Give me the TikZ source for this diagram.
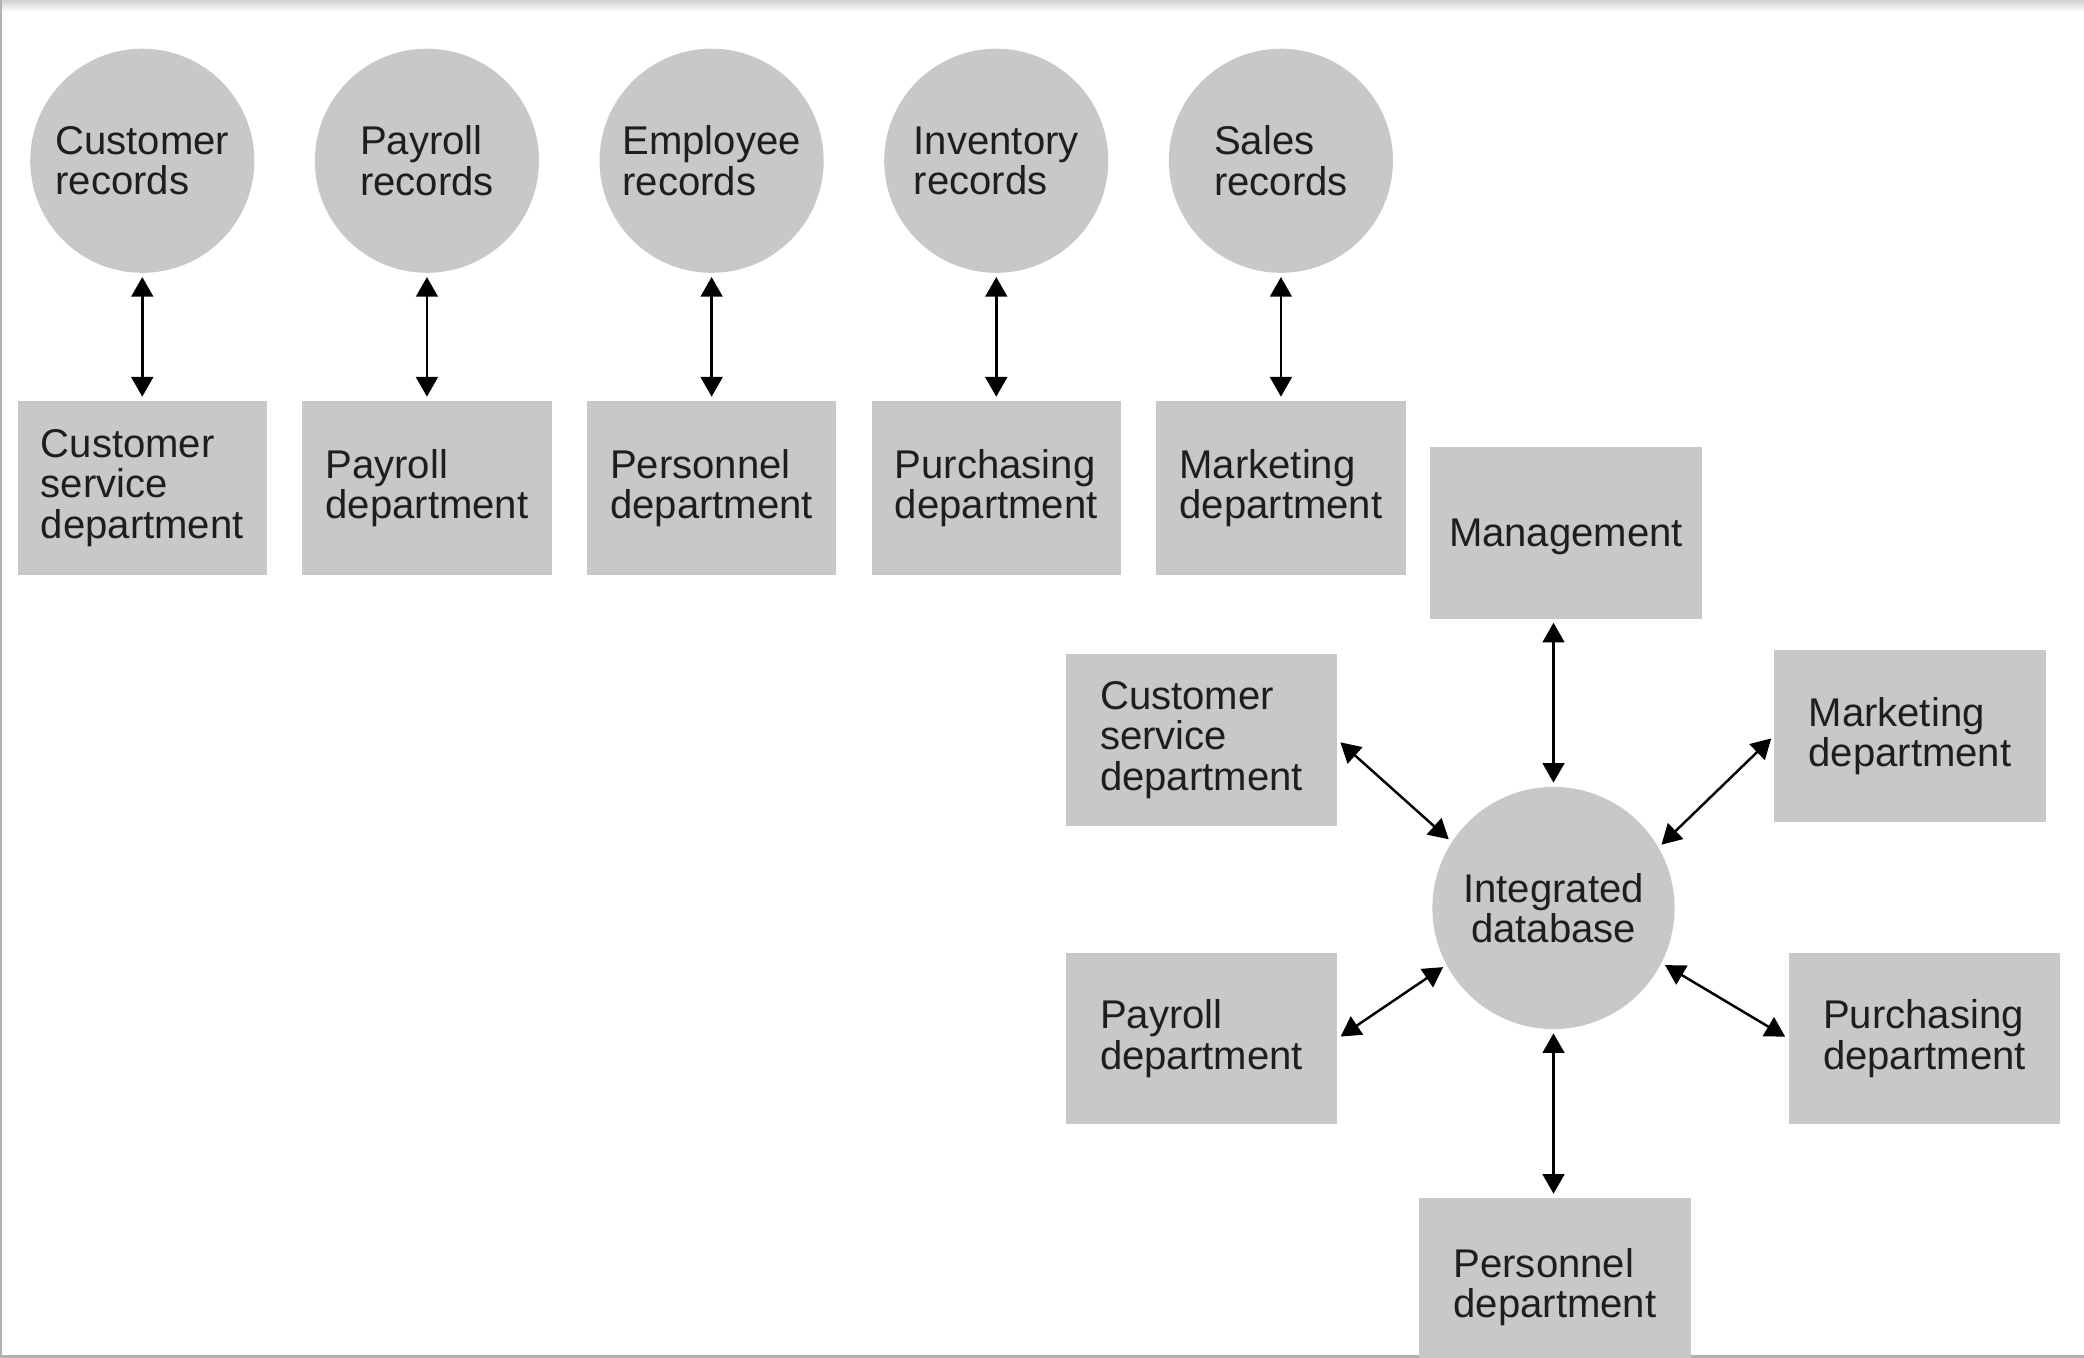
\documentclass[tikz,border=0pt]{standalone}
\usepackage{fontspec}
\setmainfont{Liberation Sans}
\usetikzlibrary{arrows.meta,%
                shapes,%
                matrix,%
                positioning}

\definecolor{boxgray}{RGB}{200,200,200}
\definecolor{inkgray}{RGB}{30,30,30}
\definecolor{framegray}{RGB}{178,178,178}

\begin{document}
\begin{tikzpicture}[x=0.01cm, y=-0.01cm,
store/.style={circle, fill=boxgray, minimum size=2.24cm, inner sep=0pt,
anchor=center, align=left, text=inkgray, font=\fontsize{11.4}{11.5}\selectfont},
%
dept/.style={rectangle, fill=boxgray, minimum width=2.49cm, minimum height=1.74cm,
inner sep=0pt, anchor=center, align=left, text=inkgray, font=\fontsize{11.4}{11.5}\selectfont},
%
unit/.style={rectangle, fill=boxgray, minimum width=2.71cm, minimum height=1.71cm,
inner sep=0pt, anchor=center, align=left, text=inkgray, font=\fontsize{11.4}{11.5}\selectfont},
%
hub/.style={circle, fill=boxgray, minimum size=2.42cm, inner sep=0pt,
anchor=center, align=center, text=inkgray, font=\fontsize{11.4}{11.5}\selectfont},
%
link/.style={{Triangle[length=5.6pt,width=6.2pt]}-{Triangle[length=5.6pt,width=6.2pt]},
black, line width=.7pt}]

\useasboundingbox (0,0) rectangle (2084,1358);
\clip (0,0) rectangle (2084,1358);

% frame of the page
\shade[top color=gray!35, bottom color=white] (0,0) rectangle (2084,12);
\draw[framegray, line width=1.2pt] (0,0) -- (0,1357) -- (2084,1357);

% separate files, one per department
\matrix[column sep=0.355cm, row sep=1.28cm, inner sep=0pt, anchor=north west] (Files) at (17,48) {
        \node [store] (crec) {Customer\\records}; &
        \node [store] (prec) {Payroll\\records}; &
        \node [store] (erec) {Employee\\records}; &
        \node [store] (irec) {Inventory\\records}; &
        \node [store] (srec) {Sales\\records}; \\
        %%%%%%%%%%%%%%%%%%%%%%%%%%%%%%%%%%
        \node [dept] (cdep) {Customer\\service\\department}; &
        \node [dept] (pdep) {Payroll\\department}; &
        \node [dept] (edep) {Personnel\\department}; &
        \node [dept] (idep) {Purchasing\\department}; &
        \node [dept] (sdep) {Marketing\\department}; \\
};

% integrated database
\begin{scope}[shift={(1553.5,908)}]
  \node [hub] (db) at (0,0) {Integrated\\database};
  \node [unit, text depth=0pt] (mgmt) at (12.5,-375) {Management};
  \node [unit] (cserv) at (-352,-168) {Customer\\service\\department};
  \node [unit] (mktg) at (356.5,-172) {Marketing\\department};
  \node [unit] (pay) at (-352,130.5) {Payroll\\department};
  \node [unit] (purch) at (371,130.5) {Purchasing\\department};
  \node [unit, minimum height=1.78cm] (pers) at (1.5,379) {Personnel\\department};
\end{scope}

\begin{scope}[shorten <=1pt, shorten >=1pt]
  \draw[link](crec) -- (cdep);
  \draw[link](prec) -- (pdep);
  \draw[link](erec) -- (edep);
  \draw[link](irec) -- (idep);
  \draw[link](srec) -- (sdep);
  %%%%%%%%%%%%%%%%%%%%%%%%%%%%%%%%%%%%%
  \draw[link](db) -- (db |- mgmt.south);
  \draw[link](db.147) -- (cserv.east);
  \draw[link](db.30) -- (mktg.west);
  \draw[link](db.208) -- (pay.east);
  \draw[link](db.333) -- (purch.west);
  \draw[link](db) -- (db |- pers.north);
\end{scope}

\end{tikzpicture}
\end{document}
